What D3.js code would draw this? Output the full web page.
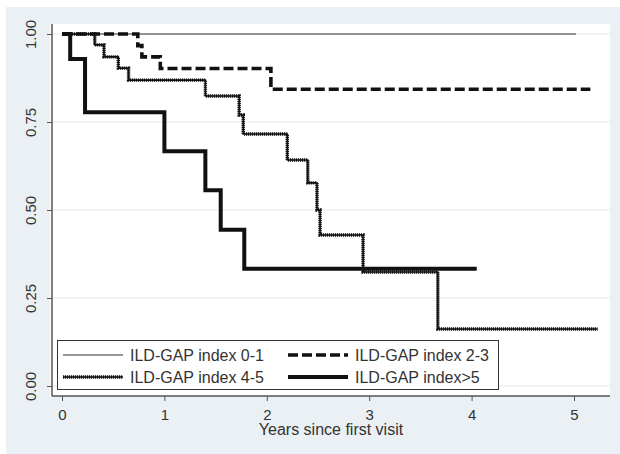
<!DOCTYPE html>
<html>
<head>
<meta charset="utf-8">
<script src="https://cdn.jsdelivr.net/npm/d3@7"></script>
<style>
  body { margin: 0; background: #fff; }
  svg { display: block; font-family: "Liberation Sans", Arial, sans-serif; }
</style>
</head>
<body>
<svg></svg>
<script>
const width = 620;
const height = 454;

// Kaplan-Meier step curves
const gap01Time = [0, 5.02];
const gap01Surv = [1, 1];

const gap23Time = [0, 0.74, 0.78, 0.96, 2.04, 5.16];
const gap23Surv = [1, 0.967, 0.935, 0.902, 0.843, 0.843];

const gap45Time = [0, 0.32, 0.41, 0.55, 0.65, 1.40, 1.73, 1.77, 2.20, 2.40, 2.49, 2.52, 2.94, 3.67, 5.23];
const gap45Surv = [1, 0.969, 0.935, 0.903, 0.869, 0.824, 0.77, 0.716, 0.642, 0.577, 0.5, 0.429, 0.324, 0.162, 0.162];

const gap6Time = [0, 0.08, 0.225, 1.0, 1.40, 1.55, 1.78, 4.05];
const gap6Surv = [1, 0.929, 0.778, 0.667, 0.556, 0.444, 0.333, 0.333];

const xTicks = [0, 1, 2, 3, 4, 5];
const yTicks = [0, 0.25, 0.5, 0.75, 1];
const legendLabels = ['ILD-GAP index 0-1', 'ILD-GAP index 2-3', 'ILD-GAP index 4-5', 'ILD-GAP index>5'];

const svg = d3.select('svg')
  .attr('width', width)
  .attr('height', height);

// outer graph region + white plot region
svg.append('rect')
  .attr('x', 6).attr('y', 7)
  .attr('width', width - 6).attr('height', height - 7)
  .attr('fill', '#eaf0f3');

svg.append('rect')
  .attr('x', 50).attr('y', 24)
  .attr('width', 560).attr('height', 372)
  .attr('fill', '#fff');

const xScale = d3.scaleLinear()
  .domain([0, 5])
  .range([62, 574]);

const yScale = d3.scaleLinear()
  .domain([0, 1])
  .range([386, 34]);

// grid
svg.append('g')
  .selectAll('line')
  .data(yTicks)
  .join('line')
  .attr('x1', 52).attr('x2', 610)
  .attr('y1', d => yScale(d)).attr('y2', d => yScale(d))
  .attr('stroke', '#eaf1f3')
  .attr('stroke-width', 1.5);

const xAxis = d3.axisBottom(xScale)
  .tickValues(xTicks)
  .tickFormat(d3.format('d'))
  .tickSize(5)
  .tickSizeOuter(0);

const yAxis = d3.axisLeft(yScale)
  .tickValues(yTicks)
  .tickFormat(d3.format('.2f'))
  .tickSize(5)
  .tickSizeOuter(0);

const gx = svg.append('g')
  .attr('transform', 'translate(0, 396)')
  .call(xAxis);
gx.select('.domain').remove();
gx.append('line')
  .attr('x1', 52).attr('x2', 610)
  .attr('stroke', '#555').attr('stroke-width', 1.5);
gx.selectAll('.tick line').attr('stroke', '#555');
gx.selectAll('.tick text')
  .attr('y', 13)
  .attr('fill', '#333')
  .style('font-size', '15px')
  .style('font-family', '"Liberation Sans", Arial, sans-serif');

const gy = svg.append('g')
  .attr('transform', 'translate(52, 0)')
  .call(yAxis);
gy.select('.domain').remove();
gy.append('line')
  .attr('y1', 24).attr('y2', 396)
  .attr('stroke', '#555').attr('stroke-width', 1.5);
gy.selectAll('.tick line').attr('stroke', '#555');
gy.selectAll('.tick text')
  .attr('x', 0).attr('dy', 0)
  .attr('transform', 'translate(-16, 0) rotate(-90)')
  .attr('text-anchor', 'middle')
  .attr('fill', '#333')
  .style('font-size', '15px')
  .style('font-family', '"Liberation Sans", Arial, sans-serif');

svg.append('text')
  .attr('x', 331)
  .attr('y', 435)
  .attr('text-anchor', 'middle')
  .attr('fill', '#333')
  .style('font-size', '16px')
  .text('Years since first visit');

// curve styles
const styles = [
  { stroke: '#333', width: 1.2, dash: null },
  { stroke: '#111', width: 3.6, dash: '10 4' },
  { stroke: '#111', width: 3.4, dash: '1.2 0.8' },
  { stroke: '#111', width: 4, dash: null }
];

const line = d3.line()
  .x(d => xScale(d[0]))
  .y(d => yScale(d[1]))
  .curve(d3.curveStepAfter);

const curves = [
  d3.zip(gap01Time, gap01Surv),
  d3.zip(gap23Time, gap23Surv),
  d3.zip(gap45Time, gap45Surv),
  d3.zip(gap6Time, gap6Surv)
];

const drawStyled = (sel, i) => {
  if(i === 2) {
    // solid core under the beaded line
    sel.clone()
      .attr('stroke-width', 1.6)
      .attr('stroke-dasharray', null);
  }
  sel.attr('fill', 'none')
    .attr('stroke', styles[i].stroke)
    .attr('stroke-width', styles[i].width)
    .attr('stroke-dasharray', styles[i].dash);
};

curves.forEach((c, i) => {
  const p = svg.append('path')
    .datum(c)
    .attr('d', line)
    .attr('fill', 'none')
    .attr('stroke', styles[i].stroke);
  drawStyled(p, i);
});

// legend
const legend = svg.append('g');
legend.append('rect')
  .attr('x', 57.5).attr('y', 340.5)
  .attr('width', 441).attr('height', 49)
  .attr('fill', '#fff')
  .attr('stroke', '#333');

const legendPos = [[63, 355], [288, 355], [63, 377], [288, 377]];

legendLabels.forEach((label, i) => {
  const [lx, ly] = legendPos[i];
  const sample = legend.append('path')
    .attr('d', `M${lx},${ly}H${lx + 60}`)
    .attr('fill', 'none')
    .attr('stroke', styles[i].stroke);
  drawStyled(sample, i);
  legend.append('text')
    .attr('x', lx + 67)
    .attr('y', ly + 6)
    .attr('fill', '#333')
    .style('font-size', '16px')
    .text(label);
});
</script>
</body>
</html>
